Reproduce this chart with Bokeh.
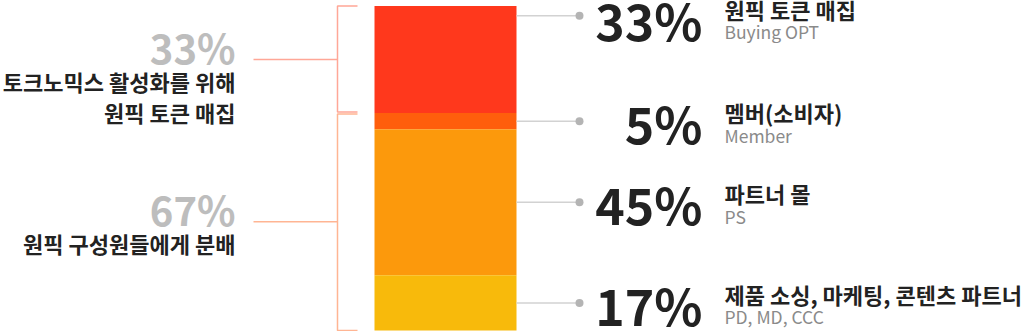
from bokeh.plotting import figure
from bokeh.models import Range1d
from bokeh.core.properties import value
from bokeh.embed import file_html
from bokeh.resources import INLINE

# ---- data ----
titles_ko = ["원픽 토큰 매집", "멤버(소비자)", "파트너 몰", "제품 소싱, 마케팅, 콘텐츠 파트너"]
titles_en = ["Buying OPT", "Member", "PS", "PD, MD, CCC"]
shares = [33, 5, 45, 17]
seg_colors = ["#FF381C", "#FF5E0C", "#FC990C", "#F8BA0B"]
group_sizes = [1, 3]
group_desc = [["토크노믹스 활성화를 위해", "원픽 토큰 매집"], ["원픽 구성원들에게 분배"]]
group_colors = ["#FFA797", "#FFB593"]

FONT = "Noto Sans CJK KR"
PX = 3.245  # pixels per percent unit
y0 = -1 / PX
y1 = y0 + 331 / PX

p = figure(width=1024, height=331, x_range=Range1d(0, 1024), y_range=Range1d(y0, y1),
           output_backend="svg", toolbar_location=None, min_border=0,
           x_axis_location=None, y_axis_location=None, outline_line_color=None)
p.grid.visible = False
p.background_fill_color = "white"
p.border_fill_color = "white"

total = sum(shares)
tops, bottoms = [], []
acc = total
for s in shares:
    tops.append(acc)
    bottoms.append(acc - s)
    acc -= s

# stacked bar
p.vbar(x=[445] * len(shares), width=142, top=tops, bottom=bottoms,
       fill_color=seg_colors, line_color=None)

# right connectors + labels (first label anchored at its segment's top edge)
centers = [(t + b) / 2 for t, b in zip(tops, bottoms)]
line_y = [tops[0] - 3] + centers[1:]
text_y = [tops[0] - 3.6] + centers[1:]
p.segment(x0=[516] * 4, y0=line_y, x1=[579] * 4, y1=line_y, line_color="#d2d2d2", line_width=1.5)
p.scatter(x=[579] * 4, y=line_y, size=8, fill_color="#b4b4b4", line_color=None)

p.text(x=[702] * 4, y=text_y, text=[f"{s}%" for s in shares], text_font=value(FONT),
       text_font_style="bold", text_font_size="50px", text_color="#222222",
       text_align="right", text_baseline="middle", y_offset=1)
p.text(x=[724] * 4, y=text_y, text=titles_ko, text_font=value(FONT),
       text_font_style="bold", text_font_size="22px", text_color="#222222",
       text_align="left", text_baseline="middle", y_offset=-9)
p.text(x=[724] * 4, y=text_y, text=titles_en, text_font=value(FONT),
       text_font_size="17.5px", text_color="#8a8a8a",
       text_align="left", text_baseline="middle", y_offset=14)

# left brackets
idx = 0
gap = 0.3
for g, n in enumerate(group_sizes):
    gtop = tops[idx]
    gbot = bottoms[idx + n - 1]
    gsum = sum(shares[idx:idx + n])
    idx += n
    top_y = gtop - (gap if gtop < total else 0)
    bot_y = gbot + (gap if gbot > 0 else 0)
    mid = (gtop + gbot) / 2
    c = group_colors[g]
    p.line(x=[357, 337, 337, 357], y=[top_y, top_y, bot_y, bot_y], line_color=c, line_width=1.5)
    p.segment(x0=[253], y0=[mid], x1=[337], y1=[mid], line_color=c, line_width=1.5)
    p.text(x=[235], y=[mid], text=[f"{gsum}%"], text_font=value(FONT), text_font_style="bold",
           text_font_size="40px", text_color="#bdbdbd", text_align="right",
           text_baseline="middle", y_offset=-13)
    lines = group_desc[g]
    p.text(x=[235] * len(lines), y=[mid] * len(lines), text=lines, text_font=value(FONT),
           text_font_style="bold", text_font_size="22px", text_color="#222222",
           text_align="right", text_baseline="middle",
           y_offset=[21 + 31 * i for i in range(len(lines))])

open("out.html", "w").write(file_html(p, INLINE))
